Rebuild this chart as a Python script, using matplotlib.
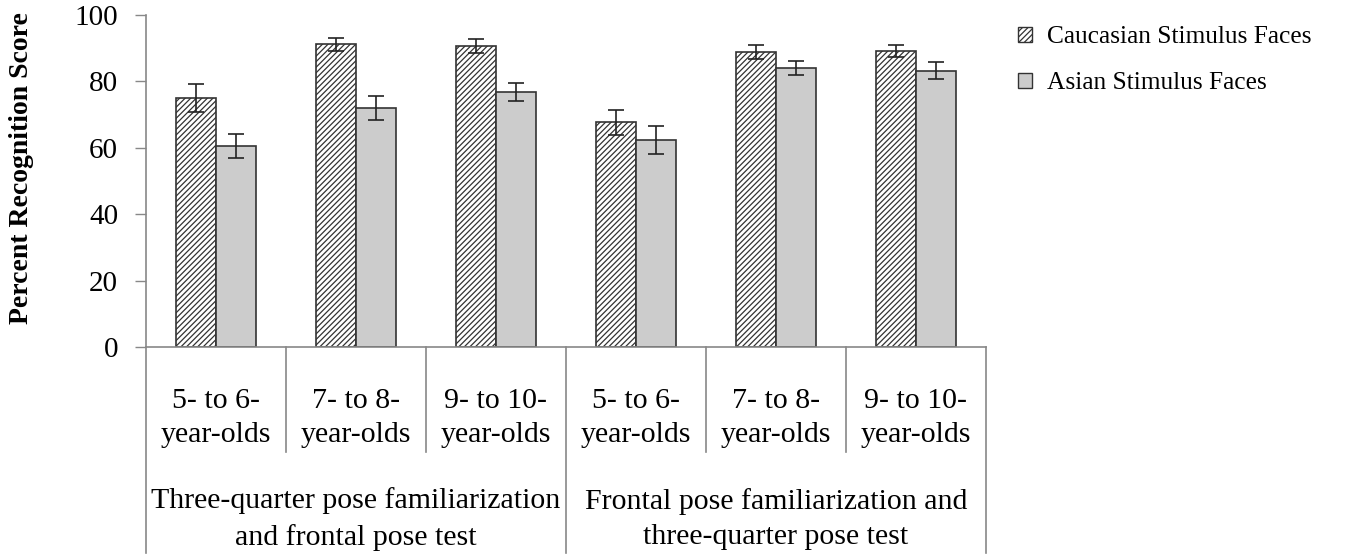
import matplotlib.pyplot as plt
from matplotlib.patches import Patch
import numpy as np

# значения
age_labels = ['5- to 6-\nyear-olds', '7- to 8-\nyear-olds', '9- to 10-\nyear-olds',
              '5- to 6-\nyear-olds', '7- to 8-\nyear-olds', '9- to 10-\nyear-olds']
condition_labels = ['Three-quarter pose familiarization\nand frontal pose test',
                    'Frontal pose familiarization and\nthree-quarter pose test']
caucasian = [75.1, 91.2, 90.7, 67.7, 88.9, 89.2]
caucasian_err = [4.2, 2.0, 2.0, 3.8, 2.2, 1.8]
asian = [60.6, 72.0, 76.7, 62.3, 84.1, 83.2]
asian_err = [3.7, 3.5, 2.7, 4.3, 2.1, 2.6]
y_ticks = [0, 20, 40, 60, 80, 100]

plt.rcParams['font.family'] = ['Liberation Serif', 'DejaVu Serif']
plt.rcParams['hatch.linewidth'] = 0.9

fig = plt.figure(figsize=(13.6, 5.6), dpi=100)
ax = fig.add_axes([146 / 1360, 1 - 347 / 560, 840 / 1360, 332 / 560])

x = np.arange(len(age_labels))
width = 0.286
edge = '#333333'
axis_grey = '#888888'
hatch = '//////'

ax.bar(x - width / 2, caucasian, width, color='white', edgecolor=edge, hatch=hatch,
       linewidth=1.2, zorder=2)
ax.bar(x + width / 2, asian, width, color='#cccccc', edgecolor=edge, linewidth=1.2, zorder=2)
ax.errorbar(x - width / 2, caucasian, yerr=caucasian_err, fmt='none', ecolor='#222222',
            elinewidth=1.2, capsize=6, capthick=1.2, zorder=3)
ax.errorbar(x + width / 2, asian, yerr=asian_err, fmt='none', ecolor='#222222',
            elinewidth=1.2, capsize=6, capthick=1.2, zorder=3)

ax.set_xlim(-0.5, len(age_labels) - 0.5)
ax.set_ylim(0, 100)
ax.set_yticks(y_ticks)
ax.tick_params(axis='y', length=8, width=1, color=axis_grey, labelsize=21, pad=12)
ax.set_xticks([])
for side in ['top', 'right']:
    ax.spines[side].set_visible(False)
for side in ['left', 'bottom']:
    ax.spines[side].set_color(axis_grey)
    ax.spines[side].set_linewidth(1.2)

# многоуровневая подпись оси X
trans = ax.get_xaxis_transform()
for i, lab in enumerate(age_labels):
    ax.text(i, -0.214, lab, transform=trans, ha='center', va='center', fontsize=21.5,
            linespacing=1.4)
for b in np.arange(-0.5, len(age_labels), 1.0):
    bottom = -0.62 if b in (-0.5, 2.5, 5.5) else -0.316
    ax.plot([b, b], [0, bottom], transform=trans, color=axis_grey, lw=1.2, clip_on=False)
for j, lab in enumerate(condition_labels):
    ax.text(1 + 3 * j, -0.518, lab, transform=trans, ha='center', va='center', fontsize=21.5,
            linespacing=1.45)

fig.text(22 / 1360, 1 - 168 / 560, 'Percent Recognition Score', rotation=90,
         ha='center', va='center', fontsize=20, fontweight='bold')

handles = [Patch(facecolor='white', edgecolor=edge, hatch=hatch, label='Caucasian Stimulus Faces'),
           Patch(facecolor='#cccccc', edgecolor=edge, label='Asian Stimulus Faces')]
fig.legend(handles=handles, loc='upper left', bbox_to_anchor=(1008 / 1360, 1 - 16 / 560),
           frameon=False, fontsize=18.3, handlelength=0.55, handleheight=0.55,
           handletextpad=0.6, labelspacing=0.95, borderaxespad=0)

fig.savefig('out.png', dpi=100)
